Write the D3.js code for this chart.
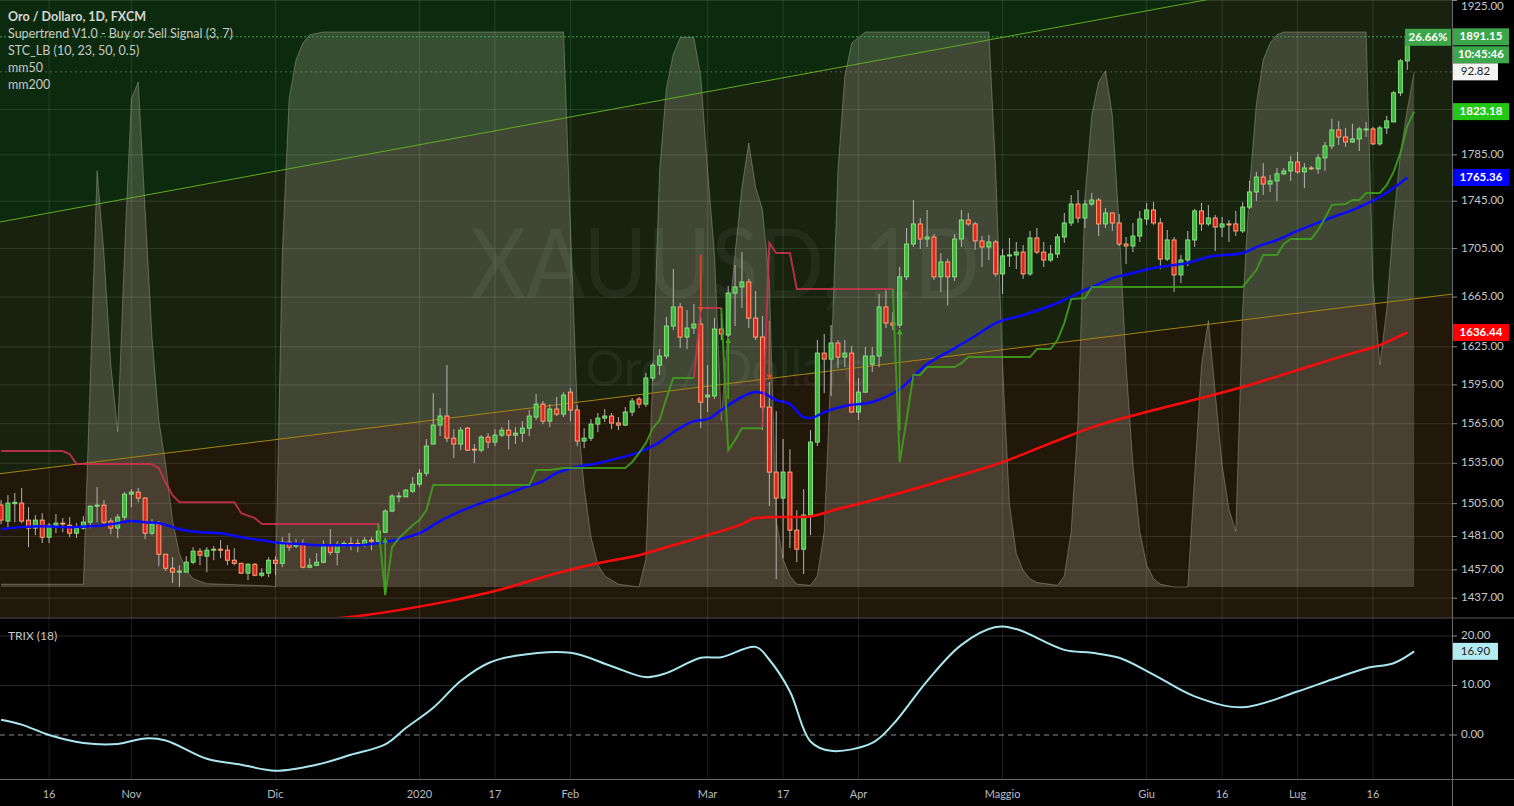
<!DOCTYPE html>
<html><head><meta charset="utf-8">
<script src="https://cdn.jsdelivr.net/npm/d3@7/dist/d3.min.js"></script>
<style>html,body{margin:0;padding:0;background:#000;overflow:hidden}svg{display:block;font-family:Lato,'Open Sans',sans-serif}</style>
</head><body>
<svg id="chart" width="1514" height="806"></svg>
<script>
// ---------------- DATA ----------------
const firstDay = "2019-10-07", lastDay = "2020-07-23";
const holidays = ["2019-12-25", "2020-01-01", "2020-04-10"];

const opens = [1504.0,1492.2,1505.0,1505.4,1492.9,1487.1,1492.9,1480.5,1489.2,1490.7,1489.2,1483.4,1487.1,1491.4,1503.1,1503.9,1492.2,1487.1,1495.1,1512.0,
1513.5,1509.1,1483.4,1490.0,1468.2,1458.2,1455.4,1455.4,1462.5,1470.4,1466.8,1471.1,1471.8,1471.1,1463.9,1461.7,1454.7,1461.0,1453.2,1454.7,
1463.9,1461.7,1476.9,1474.0,1475.5,1458.9,1460.3,1462.5,1474.7,1469.6,1474.7,1476.0,1476.0,1474.7,1478.3,1477.6,1484.1,1499.5,1510.0,1510.0,
1514.2,1519.4,1527.6,1549.5,1564.0,1570.9,1554.0,1549.5,1561.6,1545.6,1544.9,1554.8,1551.0,1556.3,1560.1,1556.3,1557.8,1561.6,1570.1,1580.1,
1567.0,1576.3,1572.4,1589.4,1575.5,1551.8,1554.0,1564.7,1569.3,1570.9,1565.5,1564.0,1574.0,1584.0,1580.1,1600.4,1610.5,1617.7,1641.6,1657.0,
1632.8,1640.0,1643.2,1585.6,1586.4,1639.2,1634.4,1668.3,1673.3,1677.4,1648.0,1632.8,1577.8,1528.4,1509.1,1528.4,1485.6,1471.8,1496.6,1551.0,
1620.0,1615.3,1628.0,1616.9,1620.0,1574.0,1589.4,1611.3,1617.7,1657.0,1644.0,1642.4,1681.6,1708.8,1725.7,1713.0,1714.7,1681.6,1693.9,1681.6,
1713.0,1729.0,1725.7,1711.4,1706.3,1710.5,1684.0,1698.9,1699.7,1702.1,1684.0,1713.9,1702.1,1695.5,1700.5,1714.7,1726.5,1742.6,1730.7,1742.6,
1746.0,1725.7,1735.0,1726.5,1708.8,1707.2,1715.5,1729.9,1737.5,1726.5,1696.3,1712.2,1683.2,1695.5,1712.2,1736.7,1725.7,1730.7,1723.1,1725.7,
1725.7,1719.8,1740.0,1752.9,1765.8,1759.7,1762.4,1768.5,1771.0,1778.8,1770.2,1773.6,1772.8,1782.4,1792.8,1806.9,1800.7,1796.3,1799.0,1806.9,
1807.8,1794.6,1808.7,1814.0,1840.0,1869.0];
const highs = [1507.6,1511.3,1512.8,1516.5,1502.4,1496.6,1498.0,1490.7,1497.3,1494.4,1495.1,1490.7,1495.8,1503.9,1517.2,1507.6,1494.4,1497.3,1513.5,1515.7,
1516.5,1509.8,1493.6,1492.2,1468.2,1466.1,1460.3,1466.8,1473.3,1472.6,1473.3,1474.0,1478.3,1474.7,1472.6,1461.7,1461.7,1461.7,1458.2,1466.1,
1466.8,1480.5,1483.4,1479.0,1479.0,1465.3,1469.0,1478.3,1486.3,1477.6,1477.6,1480.5,1479.0,1480.5,1480.5,1490.7,1500.9,1512.0,1513.5,1515.7,
1524.7,1530.7,1553.3,1588.5,1577.0,1610.5,1560.8,1562.4,1562.4,1549.5,1556.3,1557.8,1560.8,1562.4,1567.8,1562.4,1567.0,1575.5,1588.0,1582.4,
1580.1,1585.6,1589.4,1592.5,1579.3,1561.6,1568.5,1573.2,1576.3,1573.2,1570.1,1577.8,1584.8,1585.6,1604.3,1612.1,1623.2,1649.0,1688.0,1660.2,
1654.5,1659.4,1649.0,1610.5,1648.2,1652.0,1674.1,1691.3,1702.1,1679.9,1670.0,1649.8,1597.2,1574.7,1553.3,1545.6,1500.2,1515.7,1560.1,1630.4,
1635.2,1642.4,1630.4,1630.4,1625.6,1600.4,1624.8,1624.8,1667.6,1670.8,1653.0,1689.7,1722.3,1746.0,1730.7,1737.5,1717.2,1701.3,1696.5,1717.2,
1737.5,1735.0,1727.4,1715.5,1716.4,1712.2,1704.7,1713.9,1710.5,1708.0,1719.8,1722.3,1710.5,1708.0,1717.2,1735.0,1750.3,1754.6,1746.0,1752.0,
1747.7,1739.2,1735.0,1734.1,1714.7,1726.5,1736.7,1743.5,1744.3,1730.7,1720.6,1714.7,1699.7,1719.8,1738.4,1743.5,1741.7,1733.3,1731.6,1729.0,
1736.7,1744.3,1762.4,1770.2,1777.9,1767.6,1773.6,1773.6,1784.1,1787.6,1777.9,1775.3,1785.8,1796.3,1816.7,1814.9,1808.7,1812.4,1809.6,1814.0,
1809.6,1810.5,1819.4,1841.7,1870.8,1897.6];
const lows = [1490.0,1487.8,1491.4,1490.7,1473.3,1481.9,1476.2,1476.2,1483.4,1484.1,1480.5,1479.8,1486.0,1487.0,1491.4,1489.2,1482.6,1479.8,1492.9,1502.4,
1506.0,1479.0,1481.9,1459.6,1456.1,1447.6,1444.8,1455.4,1461.0,1460.3,1455.4,1463.9,1465.3,1460.3,1460.3,1454.0,1449.7,1452.5,1451.8,1451.8,
1453.2,1458.9,1470.4,1472.6,1458.2,1458.2,1459.6,1461.7,1467.5,1460.3,1473.3,1471.1,1469.6,1473.3,1471.1,1476.9,1483.4,1498.7,1506.0,1510.0,
1512.8,1517.2,1525.4,1549.5,1555.5,1551.0,1539.0,1544.9,1544.2,1535.1,1543.4,1546.4,1547.9,1554.8,1545.6,1549.5,1551.0,1555.5,1567.8,1564.7,
1562.4,1570.9,1570.1,1567.0,1548.0,1546.4,1551.8,1558.5,1566.2,1560.8,1560.1,1563.2,1570.9,1577.0,1577.8,1598.0,1602.7,1615.3,1638.4,1624.0,
1623.2,1635.2,1561.6,1574.0,1584.0,1630.4,1632.8,1641.6,1656.2,1640.0,1630.4,1560.1,1503.1,1450.4,1465.3,1472.6,1462.5,1454.0,1482.0,1548.0,
1588.7,1586.4,1608.0,1608.9,1573.2,1567.8,1588.7,1605.0,1608.9,1640.0,1638.4,1640.0,1679.0,1706.3,1704.7,1706.3,1679.0,1669.2,1658.2,1678.2,
1706.3,1724.0,1703.8,1689.7,1695.5,1681.6,1667.5,1689.7,1688.0,1679.9,1682.4,1700.5,1689.7,1693.9,1697.2,1709.7,1724.0,1726.5,1722.3,1740.9,
1715.5,1722.3,1719.8,1707.2,1692.2,1702.1,1710.5,1725.0,1724.9,1688.0,1694.7,1669.2,1676.5,1690.5,1706.3,1719.8,1724.0,1702.9,1714.7,1710.5,
1715.5,1718.1,1738.4,1745.2,1750.3,1752.9,1745.2,1767.6,1762.4,1768.5,1756.3,1771.9,1768.5,1771.0,1790.1,1793.7,1791.9,1795.4,1788.4,1800.7,
1793.7,1793.0,1803.4,1814.0,1837.2,1860.8];
const closes = [1492.9,1505.4,1506.0,1492.2,1487.1,1492.9,1480.5,1489.2,1490.7,1490.0,1483.4,1487.1,1491.4,1503.1,1503.9,1491.4,1487.1,1495.1,1512.0,1513.5,
1509.1,1483.4,1490.0,1468.2,1458.2,1455.4,1456.1,1462.5,1470.4,1467.5,1471.1,1471.8,1471.1,1463.9,1461.7,1454.7,1461.0,1453.2,1454.7,1463.9,
1461.7,1476.9,1473.3,1475.5,1458.9,1460.3,1462.5,1474.7,1469.6,1474.7,1476.0,1475.5,1475.0,1478.3,1477.6,1484.9,1499.5,1510.6,1510.6,1515.0,
1519.4,1527.6,1548.0,1564.0,1570.9,1554.0,1549.5,1560.1,1544.9,1544.9,1554.8,1551.0,1556.3,1560.1,1556.3,1557.8,1561.6,1570.9,1580.1,1567.0,
1576.3,1572.4,1587.1,1575.5,1551.8,1554.0,1564.7,1569.3,1570.9,1565.5,1564.0,1574.0,1582.4,1580.1,1600.4,1610.5,1617.7,1641.6,1657.0,1632.8,
1640.0,1643.2,1581.6,1587.1,1639.2,1635.2,1668.3,1673.3,1677.4,1648.0,1632.8,1577.8,1528.4,1509.1,1528.4,1485.6,1471.8,1496.6,1551.0,1620.0,
1615.3,1628.0,1616.9,1620.0,1574.0,1589.4,1617.7,1617.7,1657.0,1644.0,1642.4,1681.6,1708.8,1725.7,1713.0,1714.7,1681.6,1693.9,1681.6,1713.0,
1729.0,1725.7,1711.4,1706.3,1710.5,1684.0,1698.9,1699.7,1702.1,1684.0,1713.9,1702.1,1695.5,1700.5,1714.7,1726.5,1742.6,1730.7,1742.6,1746.0,
1725.7,1735.0,1726.5,1708.8,1707.2,1715.5,1729.9,1737.5,1726.5,1696.3,1712.2,1683.2,1695.5,1712.2,1736.7,1725.7,1730.7,1723.1,1725.7,1724.9,
1719.8,1740.0,1752.9,1765.8,1759.7,1762.4,1768.5,1771.0,1778.8,1770.2,1773.6,1772.8,1782.4,1792.8,1806.9,1800.7,1796.3,1799.0,1807.8,1807.8,
1794.6,1808.7,1814.9,1840.0,1869.0,1891.15];

// moving averages [bar index, price]
const mm50 = [[0,1486.3],[3,1487.8],[6,1488.5],[10,1487.8],[13,1488.5],[15,1489.2],[17,1490.7],[19,1492.2],[21,1491.4],[23,1490.7],[26,1486.3],[29,1484.1],[32,1483.4],[35,1480.5],[38,1478.3],[41,1476.2],[44,1475.5],[46,1474.7],[49,1474.7],[52,1474.7],[55,1476.2],[58,1479.0],[61,1483.4],[64,1492.2],[67,1499.5],[70,1505.4],[73,1510.6],[76,1516.5],[79,1521.7],[81,1527.6],[84,1532.2],[87,1535.1],[90,1538.9],[93,1543.4],[96,1551.0],[98,1558.5],[101,1567.0],[103,1568.5],[105,1575.5],[108,1585.6],[110,1589.4],[111,1588.7],[113,1583.2],[115,1580.1],[117,1570.1],[118,1569.3],[120,1573.9],[123,1578.6],[127,1581.7],[131,1591.8],[135,1611.3],[138,1620.8],[142,1633.6],[145,1644.0],[149,1650.4],[154,1660.2],[158,1670.8],[160,1675.7],[162,1680.6],[165,1684.8],[168,1688.9],[170,1690.6],[173,1693.1],[176,1698.0],[181,1701.3],[183,1706.3],[186,1712.2],[189,1719.8],[193,1729.0],[198,1740.0],[201,1748.6],[203,1756.3],[205,1765.36]];
const mm200 = [[44,1420.9],[49,1423.0],[53,1425.1],[58,1428.6],[66,1435.6],[73,1443.3],[80,1453.3],[87,1461.8],[93,1467.5],[98,1474.7],[103,1482.0],[108,1490.0],[110,1494.4],[113,1495.1],[117,1495.1],[122,1501.0],[131,1512.8],[138,1523.2],[146,1535.9],[153,1550.2],[160,1563.9],[167,1574.0],[175,1584.8],[182,1594.9],[189,1606.6],[197,1620.0],[201,1626.4],[205,1636.44]];

// supertrend segments [bar index, price]
const stDown1 = [[0,1544.2],[9,1544.2],[10,1542.0],[11,1534.4],[22,1534.4],[23,1531.4],[24,1520.2],[25,1511.3],[26,1506.1],[34,1506.1],[35,1498.0],[37,1494.4],[38,1490.0],[55,1490.0]];
const stUp1 = [[55,1490.0],[56,1439.1],[57,1473.3],[58,1479.8],[60,1489.2],[61,1492.9],[62,1500.2],[63,1518.7],[77,1518.7],[78,1529.9],[80,1529.9],[82,1531.4],[91,1531.4],[92,1535.9],[93,1542.7],[94,1550.2],[95,1561.6],[96,1567.8],[97,1584.8],[98,1600.4],[101,1600.4]];
const stDown2 = [[101,1600.4],[102,1656.2],[105,1656.2]];
const stUp2 = [[105,1656.2],[106,1544.9],[107,1552.5],[108,1561.6],[111,1561.6]];
const stDown3 = [[111,1561.6],[112,1709.7],[113,1701.3],[115,1701.3],[116,1671.6],[130,1671.6]];
const stUp3 = [[130,1671.6],[131,1535.9],[132,1567.8],[133,1602.8],[134,1602.8],[135,1609.0],[139,1609.0],[140,1612.1],[141,1616.9],[150,1616.9],[151,1623.2],[153,1623.2],[154,1630.4],[155,1644.0],[156,1663.4],[158,1664.2],[159,1673.3],[181,1673.3],[183,1687.2],[184,1699.7],[186,1699.7],[187,1708.8],[188,1713.0],[191,1713.0],[192,1720.6],[193,1730.7],[194,1741.7],[196,1742.6],[197,1746.0],[198,1746.0],[199,1752.0],[201,1752.0],[202,1758.9],[203,1770.2],[204,1786.7],[205,1810.5],[206,1823.18]];
// supertrend signals [bar index, from price, to price]
const sigBuy = [[56,1480,1440],[106,1632,1584],[131,1639,1560]];
const sigSell = [[102,1700,1653],[112,1646,1599]];

// STC oscillator [bar index, value 0..100]
const stc = [[0,0.5],[12,0.5],[13,37],[14,75],[15,60],[16,40],[17,28],[18,60],[19,88],[20,91],[21,68],[22,45],[23,30],[24,22],[25,12],[26,6],[27,3],[28,1.5],[30,0.6],[39,0.2],[40,0],[41,60],[42,88],[43,95],[44,98],[45,99.5],[47,100],[82,100],[83,65],[84,32],[85,18],[86,9],[87,4],[88,2],[90,0.5],[93,0],[94,5],[95,38],[96,75],[97,90],[98,96],[99,99],[101,99],[102,92],[103,75],[104,60],[105,30],[106,47],[107,60],[108,72],[109,80],[110,72],[111,68],[112,55],[113,12],[114,5],[115,2],[116,0.5],[118,0.3],[119,2],[120,10],[121,40],[122,75],[123,92],[124,98],[126,100],[144,100],[145,75],[146,40],[147,15],[148,6],[149,3],[150,1.5],[151,0.8],[154,0.3],[155,2],[156,10],[157,30],[158,70],[159,85],[160,91],[161,93],[162,85],[163,65],[164,40],[165,22],[166,10],[167,4],[168,1.5],[169,0.5],[171,0],[173,0],[174,20],[175,40],[176,48],[177,35],[178,22],[179,14],[180,10],[181,50],[182,72],[183,87],[184,95],[185,98],[186,99.5],[187,100],[199,100],[200,55],[201,40],[202,50],[203,66],[204,78],[205,86],[206,92.82]];

// TRIX (18) [bar index, value]
const trix = [[0,3.1],[3,2.1],[7,0],[12,-1.6],[17,-1.8],[21,-0.7],[24,-1.1],[30,-4.8],[35,-6.0],[40,-7.2],[46,-6.0],[51,-4.0],[56,-1.9],[59,1.4],[63,5.5],[67,10.9],[71,14.5],[75,16.0],[83,16.6],[89,13.9],[94,11.7],[97,12.5],[102,15.6],[105,15.7],[110,17.8],[112,15.2],[115,8.8],[118,-1.3],[121,-3.2],[127,-1.6],[130,2.1],[135,10.9],[140,18.2],[145,21.8],[148,21.4],[155,17.2],[159,16.6],[163,15.6],[168,12.2],[174,7.8],[181,5.6],[189,8.8],[194,11.2],[199,13.5],[203,14.5],[206,16.9]];

// drawn trend lines [bar index, price]
const upperTrend = [[0,1727.5],[175,1924.8]];
const lowerTrend = [[0,1527.3],[200,1659.5]];

// axes
const timeTickDates = ["2019-10-16","2019-11-01","2019-12-02","2020-01-02","2020-01-17","2020-02-03","2020-03-02","2020-03-17","2020-04-01","2020-05-01","2020-06-01","2020-06-16","2020-07-01","2020-07-16"];
const timeTickLabels = ["16","Nov","Dic","2020","17","Feb","Mar","17","Apr","Maggio","Giu","16","Lug","16"];
const priceGrid = [1925,1825,1785,1745,1705,1665,1625,1595,1565,1535,1505,1481,1457,1437];
const priceTickLabels = [1925,1785,1745,1705,1665,1625,1595,1565,1535,1505,1481,1457,1437];
const trixTicks = [20,10,0];
const legendLines = ["Supertrend V1.0 - Buy or Sell Signal (3, 7)","STC_LB (10, 23, 50, 0.5)","mm50","mm200"];
const lastPct = "26.66%", countdown = "10:45:46";

// ---------------- DRAW ----------------
const PW = 1452, MB = 617, TT = 619, TB = 779;
const svg = d3.select('#chart');
svg.append('rect').attr('width',1514).attr('height',806).attr('fill','#000');
const defs = svg.append('defs');
defs.append('clipPath').attr('id','cm').append('rect').attr('x',0).attr('y',0).attr('width',PW).attr('height',MB);
defs.append('clipPath').attr('id','ct').append('rect').attr('x',0).attr('y',TT).attr('width',PW).attr('height',TB-TT);

const parse = d3.timeParse('%Y-%m-%d'), fmt = d3.timeFormat('%Y-%m-%d');
const dates = d3.timeDay.range(parse(firstDay), d3.timeDay.offset(parse(lastDay),1))
  .filter(d => d.getDay()!==0 && d.getDay()!==6 && !holidays.includes(fmt(d)));
const idxOf = s => dates.findIndex(d => fmt(d)===s);

const x = d3.scaleLinear().domain([19,200]).range([131.4,1373]);
const y = d3.scaleLog().domain([1423.8,1925.5]).range([MB,0]);
const yS = d3.scaleLinear().domain([0,100]).range([587,32]);
const yT = d3.scaleLinear().domain([0,20]).range([735,636]);

const main = svg.append('g').attr('clip-path','url(#cm)');
function trend(a){ const x1=x(a[0][0]),y1=y(a[0][1]),x2=x(a[1][0]),y2=y(a[1][1]); const m=(y2-y1)/(x2-x1); return X=>y1+m*(X-x1); }
const up = trend(upperTrend), lo = trend(lowerTrend);
main.append('path').attr('d',`M0,-3000L${PW},-3000L${PW},${up(PW)}L0,${up(0)}Z`).attr('fill','#0c2a0d');
main.append('path').attr('d',`M0,${up(0)}L${PW},${up(PW)}L${PW},${lo(PW)}L0,${lo(0)}Z`).attr('fill','#17230f');
main.append('path').attr('d',`M0,${lo(0)}L${PW},${lo(PW)}L${PW},${MB}L0,${MB}Z`).attr('fill','#21180a');

// grid
const gridC = 'rgba(255,255,255,0.11)';
const tickIdx = timeTickDates.map(idxOf);
svg.append('g').selectAll('line').data(tickIdx).join('line')
  .attr('x1',d=>x(d)).attr('x2',d=>x(d)).attr('y1',0).attr('y2',TB).attr('stroke',gridC);
main.append('g').selectAll('line').data(priceGrid).join('line')
  .attr('x1',0).attr('x2',PW).attr('y1',d=>y(d)).attr('y2',d=>y(d)).attr('stroke',gridC);

// watermark
main.append('text').attr('x',725).attr('y',298).attr('text-anchor','middle').attr('font-size',96)
  .attr('textLength',510).attr('lengthAdjust','spacingAndGlyphs').attr('fill','rgba(255,255,255,0.05)').text('XAUUSD, 1D');
main.append('text').attr('x',728).attr('y',386).attr('text-anchor','middle').attr('font-size',50)
  .attr('textLength',285).attr('lengthAdjust','spacingAndGlyphs').attr('fill','rgba(255,255,255,0.05)').text('Oro / Dollaro');

// STC
main.append('path').datum(stc).attr('d',d3.area().x(d=>x(d[0])).y0(yS(0)).y1(d=>yS(d[1])))
  .attr('fill','rgba(255,245,225,0.18)');
main.append('path').datum(stc).attr('d',d3.line().x(d=>x(d[0])).y(d=>yS(d[1])))
  .attr('fill','none').attr('stroke','rgba(200,200,190,0.35)').attr('stroke-width',1);

// trend lines
main.append('line').attr('x1',0).attr('x2',PW).attr('y1',up(0)).attr('y2',up(PW)).attr('stroke','#5fae1e').attr('stroke-width',1);
main.append('line').attr('x1',0).attr('x2',PW).attr('y1',lo(0)).attr('y2',lo(PW)).attr('stroke','#a7860e').attr('stroke-width',1);

// dotted reference lines
main.append('line').attr('x1',0).attr('x2',PW).attr('y1',y(closes[closes.length-1])).attr('y2',y(closes[closes.length-1]))
  .attr('stroke','#3ca64b').attr('stroke-dasharray','2,2').attr('stroke-width',1);
main.append('line').attr('x1',0).attr('x2',PW).attr('y1',yS(stc[stc.length-1][1])).attr('y2',yS(stc[stc.length-1][1]))
  .attr('stroke','rgba(200,200,200,0.35)').attr('stroke-dasharray','2,3').attr('stroke-width',1);

// candles
const bars = dates.map((d,i)=>({i,o:opens[i],h:highs[i],l:lows[i],c:closes[i]}));
const cg = main.append('g');
cg.selectAll('line').data(bars).join('line')
  .attr('x1',d=>x(d.i)).attr('x2',d=>x(d.i)).attr('y1',d=>y(d.h)).attr('y2',d=>y(d.l))
  .attr('stroke','#b4b4b4').attr('stroke-width',1);
cg.selectAll('rect').data(bars).join('rect')
  .attr('x',d=>x(d.i)-2).attr('width',4)
  .attr('y',d=>Math.min(y(d.o),y(d.c)))
  .attr('height',d=>Math.max(0.8,Math.abs(y(d.o)-y(d.c))))
  .attr('fill',d=>d.c>=d.o?'#3fb83f':'#e0261f')
  .attr('stroke',d=>d.c>=d.o?'#86df7e':'#ffa474').attr('stroke-width',1);

// moving averages
const pl = d3.line().x(d=>x(d[0])).y(d=>y(d[1])).curve(d3.curveMonotoneX);
main.append('path').datum(mm200).attr('d',pl).attr('fill','none').attr('stroke','#ff0a0a').attr('stroke-width',2.5);
main.append('path').datum(mm50).attr('d',pl).attr('fill','none').attr('stroke','#0a0aff').attr('stroke-width',2.5);

// supertrend
const sl = d3.line().x(d=>x(d[0])).y(d=>y(d[1]));
[stDown1,stDown2,stDown3].forEach(s=>main.append('path').datum(s).attr('d',sl).attr('fill','none').attr('stroke','#d0304f').attr('stroke-width',2).attr('stroke-opacity',0.85));
[stUp1,stUp2,stUp3].forEach(s=>main.append('path').datum(s).attr('d',sl).attr('fill','none').attr('stroke','#3f9e1c').attr('stroke-width',2).attr('stroke-opacity',0.9));
sigBuy.forEach(s=>{
  main.append('line').attr('x1',x(s[0])).attr('x2',x(s[0])).attr('y1',y(s[1])).attr('y2',y(s[2])).attr('stroke','#3fae1c').attr('stroke-width',1.5);
  main.append('path').attr('d',`M${x(s[0])-3},${y(s[1])+5}L${x(s[0])},${y(s[1])}L${x(s[0])+3},${y(s[1])+5}Z`).attr('fill','#3fae1c');
});
sigSell.forEach(s=>{
  main.append('line').attr('x1',x(s[0])).attr('x2',x(s[0])).attr('y1',y(s[1])).attr('y2',y(s[2])).attr('stroke','#e04a2a').attr('stroke-width',1.5);
  main.append('path').attr('d',`M${x(s[0])-3},${y(s[2])-5}L${x(s[0])},${y(s[2])}L${x(s[0])+3},${y(s[2])-5}Z`).attr('fill','#e04a2a');
});

// percent label inside plot
const lastY = y(closes[closes.length-1]);
svg.append('rect').attr('x',1405).attr('y',lastY-8).attr('width',46).attr('height',17).attr('fill','#3ca64b');
svg.append('text').attr('x',1428).attr('y',lastY+1).attr('text-anchor','middle').attr('dominant-baseline','middle')
  .attr('font-size',11.5).attr('font-weight','bold').attr('fill','#fff').text(lastPct);

// TRIX pane
const tg = svg.append('g').attr('clip-path','url(#ct)');
tg.selectAll('line.g').data([20,10]).join('line').attr('x1',0).attr('x2',PW).attr('y1',d=>yT(d)).attr('y2',d=>yT(d)).attr('stroke','rgba(255,255,255,0.16)');
tg.append('line').attr('x1',0).attr('x2',PW).attr('y1',yT(0)).attr('y2',yT(0)).attr('stroke','#8a8a8a').attr('stroke-dasharray','5,4');
tg.append('path').datum(trix).attr('d',d3.line().x(d=>x(d[0])).y(d=>yT(d[1])).curve(d3.curveCatmullRom))
  .attr('fill','none').attr('stroke','#a9e6f0').attr('stroke-width',2);
svg.append('text').attr('x',8).attr('y',640).attr('font-size',12).attr('fill','#c8c8c8').text('TRIX (18)');

// separators / axes lines
svg.append('line').attr('x1',0).attr('x2',1514).attr('y1',618).attr('y2',618).attr('stroke','#5a5a5a');
svg.append('line').attr('x1',0).attr('x2',1514).attr('y1',TB+0.5).attr('y2',TB+0.5).attr('stroke','#6a6a6a');
svg.append('line').attr('x1',PW+0.5).attr('x2',PW+0.5).attr('y1',0).attr('y2',806).attr('stroke','#6a6a6a');

// time axis labels
svg.append('g').selectAll('text').data(tickIdx).join('text')
  .attr('x',d=>x(d)).attr('y',798).attr('text-anchor','middle').attr('font-size',11).attr('fill','#b8bbc2')
  .text((d,i)=>timeTickLabels[i]);

// price axis
const pa = svg.append('g');
pa.selectAll('line').data(priceTickLabels).join('line').attr('x1',PW).attr('x2',PW+5).attr('y1',d=>y(d)).attr('y2',d=>y(d)).attr('stroke','#8a8a8a');
pa.selectAll('text').data(priceTickLabels).join('text')
  .attr('x',1461).attr('y',d=>Math.max(7,y(d))).attr('dominant-baseline','middle').attr('font-size',11.5).attr('fill','#c8c8c8')
  .text(d=>d.toFixed(2));
pa.selectAll('line.t').data(trixTicks).join('line').attr('x1',PW).attr('x2',PW+5).attr('y1',d=>yT(d)).attr('y2',d=>yT(d)).attr('stroke','#8a8a8a');
pa.selectAll('text.t').data(trixTicks).join('text')
  .attr('x',1461).attr('y',d=>yT(d)).attr('dominant-baseline','middle').attr('font-size',11.5).attr('fill','#c8c8c8')
  .text(d=>d.toFixed(2));

function tag(yc, txt, bg, fg, w, bold){
  pa.append('rect').attr('x',PW+1).attr('y',yc-8.5).attr('width',w).attr('height',17).attr('fill',bg);
  pa.append('text').attr('x',PW+1+w/2).attr('y',yc+0.5).attr('text-anchor','middle').attr('dominant-baseline','middle')
    .attr('font-size',11.5).attr('font-weight',bold?'bold':'normal').attr('fill',fg).text(txt);
}
tag(lastY, closes[closes.length-1].toFixed(2), '#3ca64b', '#fff', 56, true);
tag(lastY+18, countdown, '#3ca64b', '#fff', 56, true);
tag(yS(stc[stc.length-1][1]), stc[stc.length-1][1].toFixed(2), '#f4f4f4', '#222', 45, false);
tag(y(stUp3[stUp3.length-1][1]), stUp3[stUp3.length-1][1].toFixed(2), '#22c814', '#fff', 56, true);
tag(y(mm50[mm50.length-1][1]), mm50[mm50.length-1][1].toFixed(2), '#0000ff', '#fff', 56, true);
tag(y(mm200[mm200.length-1][1]), mm200[mm200.length-1][1].toFixed(2), '#ff0000', '#fff', 56, true);
tag(yT(trix[trix.length-1][1]), trix[trix.length-1][1].toFixed(2), '#b2ebf2', '#222', 45, false);

// legend
svg.append('text').attr('x',8).attr('y',21).attr('font-size',12.5).attr('font-weight','bold').attr('fill','#d6d6d6').text('Oro / Dollaro, 1D, FXCM');
svg.append('g').selectAll('text').data(legendLines).join('text')
  .attr('x',8).attr('y',(d,i)=>38+i*17).attr('font-size',12.5).attr('fill','#c8c8c8').text(d=>d);
</script></body></html>
